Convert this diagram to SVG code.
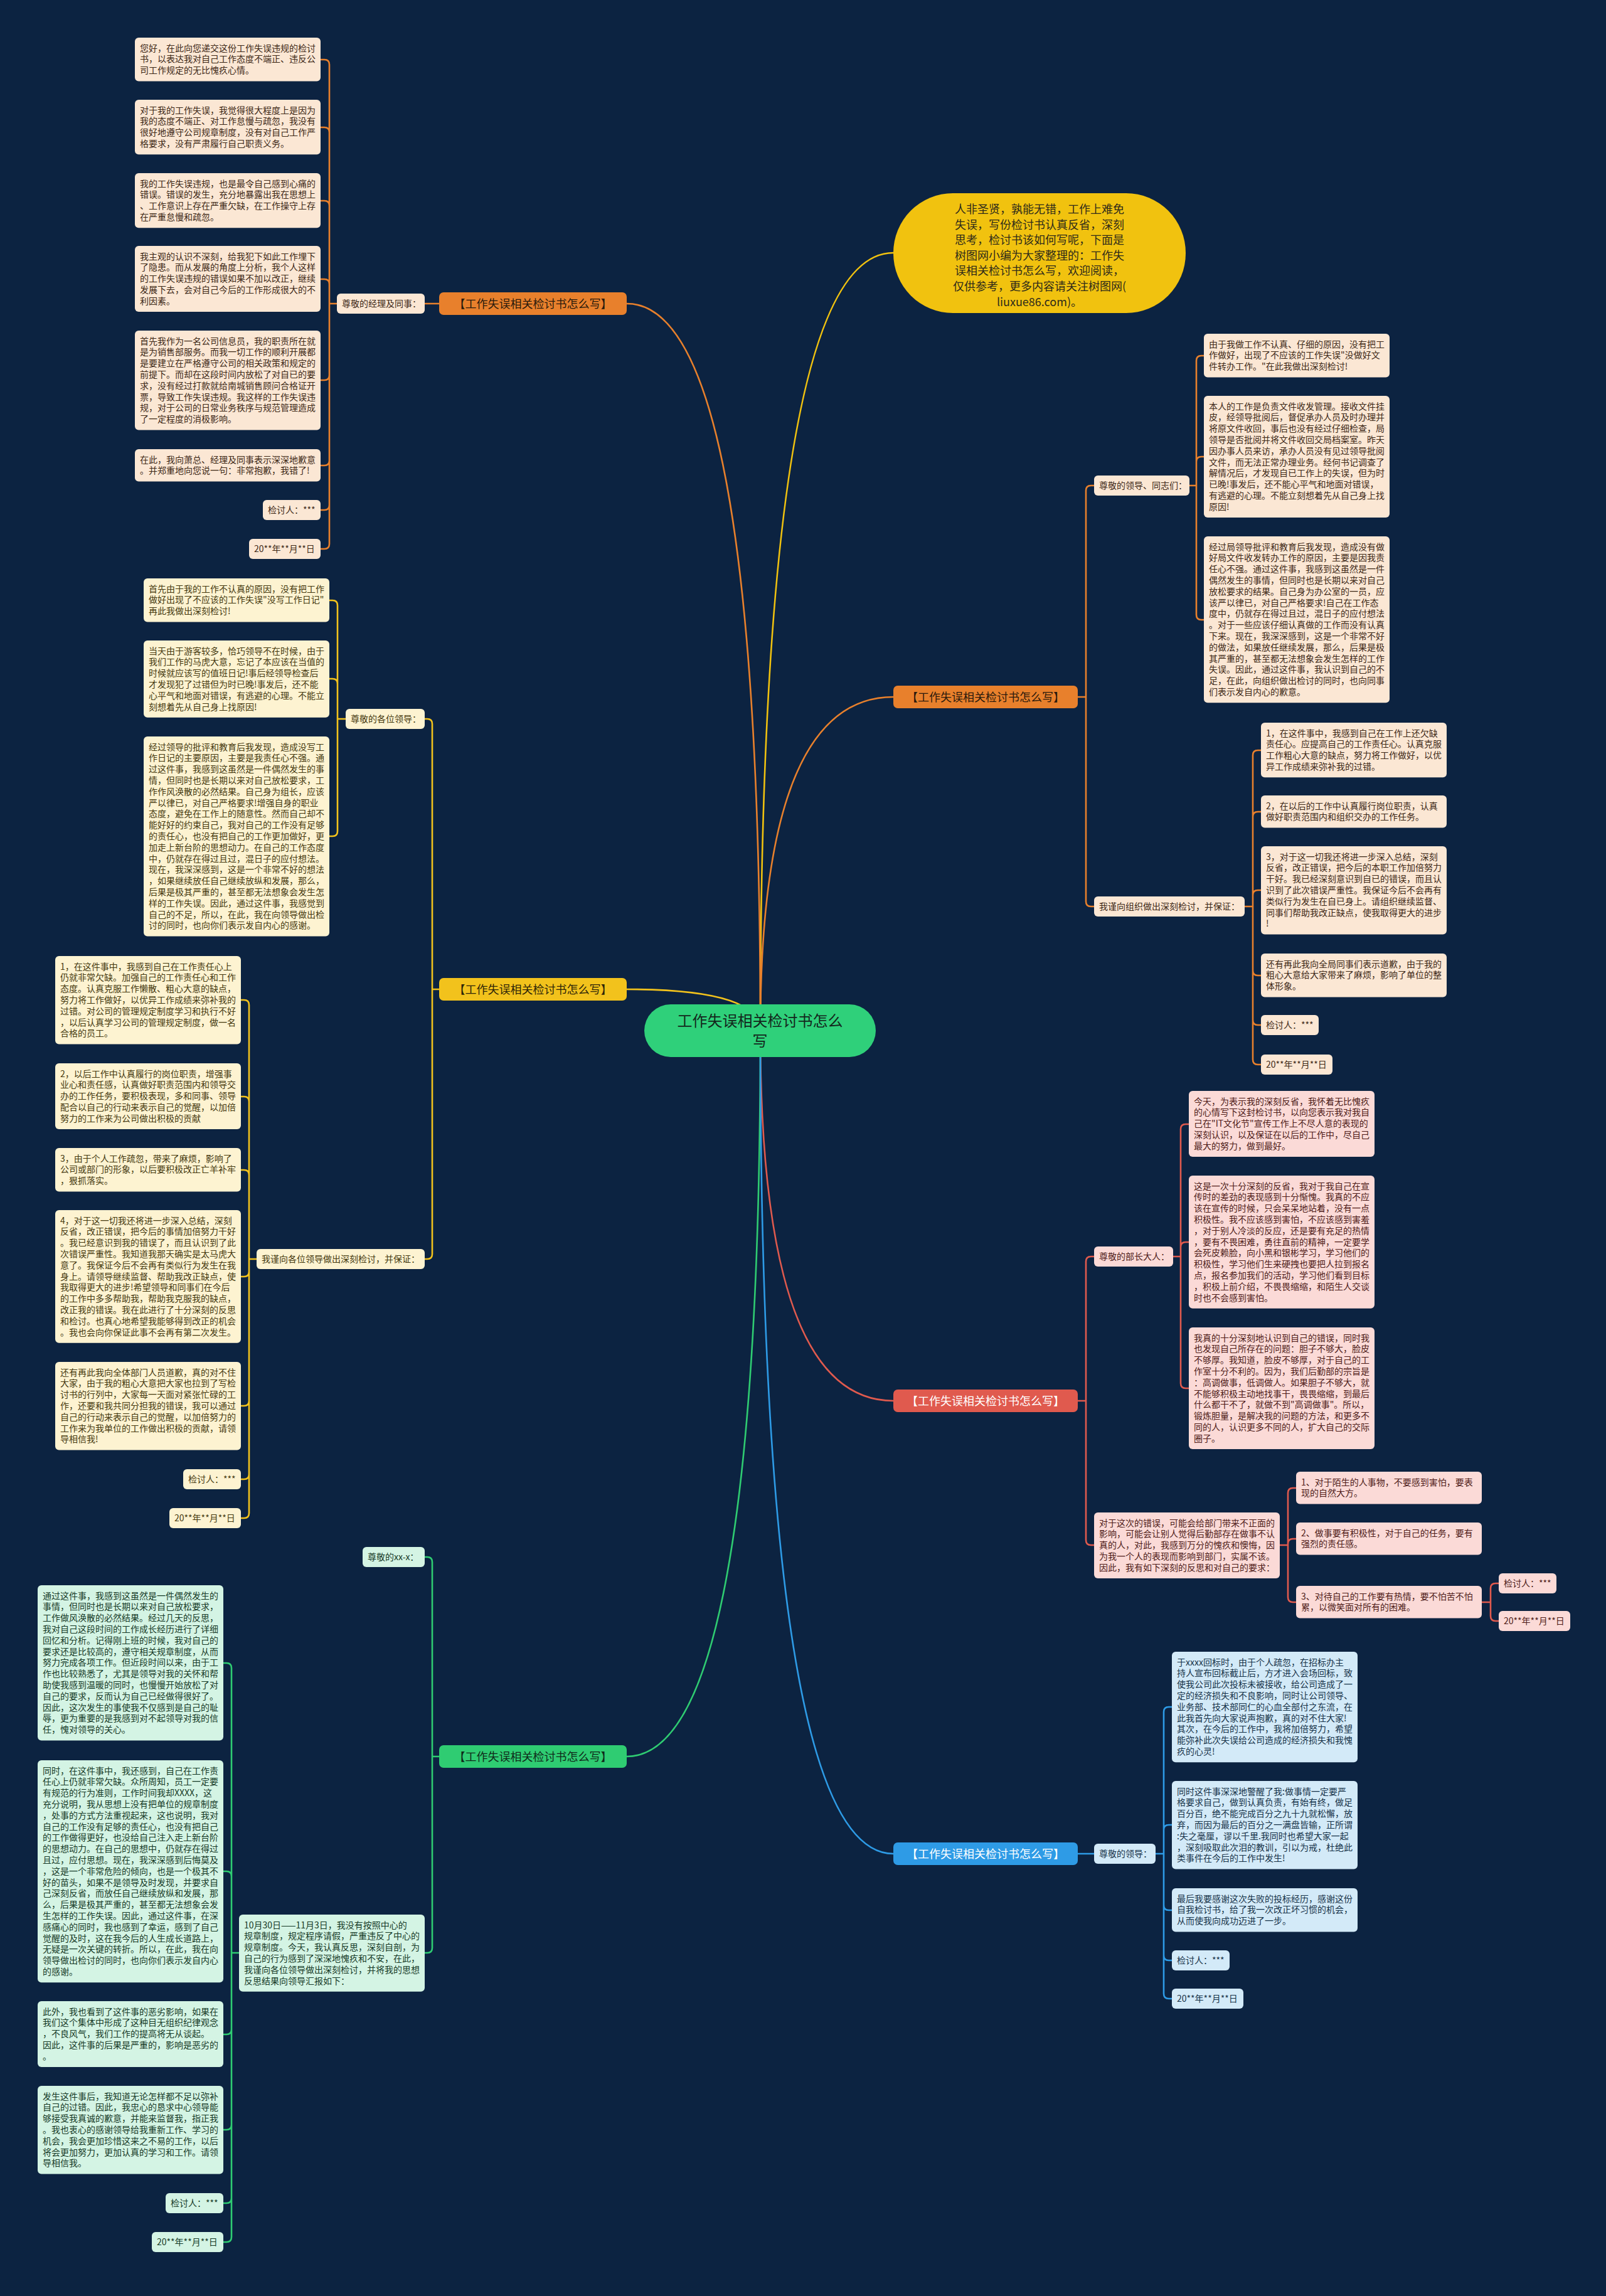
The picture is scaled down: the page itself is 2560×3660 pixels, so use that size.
<svg xmlns="http://www.w3.org/2000/svg" width="2560" height="3660" viewBox="0 0 2560 3660">
<style>
text{font-family:"Noto Sans CJK SC","Noto Sans",sans-serif;}
.b{font-size:14px}
.m{font-size:18px;text-anchor:middle}
.ln{fill:none;stroke-width:2.6;stroke-linejoin:round}
.o rect{fill:#fbe7d4}.o text{fill:#3d2816}
.y rect{fill:#fdf3d1}.y text{fill:#45390f}
.r rect{fill:#fbdad7}.r text{fill:#4e1b18}
.g rect{fill:#d4f4e4}.g text{fill:#163a27}
.u rect{fill:#d3eaf8}.u text{fill:#163248}
.mo rect{fill:#e8802c}.mo text{fill:#2a1a0c}
.my rect{fill:#f2c21c}.my text{fill:#2e2508}
.mr rect{fill:#e05a4e}.mr text{fill:#ffffff}
.mg rect{fill:#2fcc72}.mg text{fill:#0f2a1a}
.mu rect{fill:#2e9be6}.mu text{fill:#ffffff}
</style>
<rect x="0" y="0" width="2560" height="3660" fill="#0c2341"/>

<g id="connectors">
<path class="ln" stroke="#f1c20f" d="M1212 1643Q1212 403 1424 403"/>
<path class="ln" stroke="#e8802c" d="M1212 1643Q1212 484 999 484"/>
<path class="ln" stroke="#e8802c" d="M1212 1643Q1212 1111 1424 1111"/>
<path class="ln" stroke="#f2c21c" d="M1212 1643Q1212 1577 999 1577"/>
<path class="ln" stroke="#e05a4e" d="M1212 1643Q1212 2233 1424 2233"/>
<path class="ln" stroke="#2fcc72" d="M1212 1643Q1212 2800 999 2800"/>
<path class="ln" stroke="#2e9be6" d="M1212 1643Q1212 2955 1424 2955"/>

<path class="ln" stroke="#e8802c" d="M700 484H677M537 484H525V103Q525 95 517 95H511M537 484H525V211Q525 203 517 203H511M537 484H525V328Q525 320 517 320H511M537 484H525V453Q525 445 517 445H511M537 484H525V598Q525 606 517 606H511M537 484H525V734Q525 742 517 742H511M537 484H525V805Q525 813 517 813H511M537 484H525V867Q525 875 517 875H511"/>

<path class="ln" stroke="#e8802c" d="M1718 1111H1731V782Q1731 774 1739 774H1744M1718 1111H1731V1437Q1731 1445 1739 1445H1744M1896 774H1907V575Q1907 567 1915 567H1919M1896 774H1907V736Q1907 728 1915 728H1919M1896 774H1907V980Q1907 988 1915 988H1919M1984 1445H1997V1204Q1997 1196 2005 1196H2010M1984 1445H1997V1302Q1997 1294 2005 1294H2010M1984 1445H1997V1427Q1997 1419 2005 1419H2010M1984 1445H1997V1547Q1997 1555 2005 1555H2010M1984 1445H1997V1626Q1997 1634 2005 1634H2010M1984 1445H1997V1689Q1997 1697 2005 1697H2010"/>

<path class="ln" stroke="#f2c21c" d="M700 1577H689V1154Q689 1146 681 1146H677M700 1577H689V1999Q689 2007 681 2007H677M551 1146H538V965Q538 957 530 957H525M551 1146H538V1090Q538 1082 530 1082H525M551 1146H538V1325Q538 1333 530 1333H525M409 2007H397V1602Q397 1594 389 1594H384M409 2007H397V1756Q397 1748 389 1748H384M409 2007H397V1873Q397 1865 389 1865H384M409 2007H397V2027Q397 2035 389 2035H384M409 2007H397V2233Q397 2241 389 2241H384M409 2007H397V2350Q397 2358 389 2358H384M409 2007H397V2412Q397 2420 389 2420H384"/>

<path class="ln" stroke="#e05a4e" d="M1718 2233H1731V2011Q1731 2003 1739 2003H1744M1718 2233H1731V2455Q1731 2463 1739 2463H1744M1870 2003H1882V1800Q1882 1792 1890 1792H1895M1870 2003H1882V1988Q1882 1980 1890 1980H1895M1870 2003H1882V2205Q1882 2213 1890 2213H1895M2040 2463H2053V2380Q2053 2372 2061 2372H2066M2040 2463H2053V2461Q2053 2453 2061 2453H2066M2040 2463H2053V2546Q2053 2554 2061 2554H2066M2362 2554H2376V2532Q2376 2524 2384 2524H2389M2362 2554H2376V2576Q2376 2584 2384 2584H2389"/>

<path class="ln" stroke="#2fcc72" d="M700 2800H689V2490Q689 2482 681 2482H677M700 2800H689V3105Q689 3113 681 3113H677M381 3113H369V2659Q369 2651 361 2651H356M381 3113H369V2991Q369 2983 361 2983H356M381 3113H369V3235Q369 3243 361 3243H356M381 3113H369V3387Q369 3395 361 3395H356M381 3113H369V3504Q369 3512 361 3512H356M381 3113H369V3566Q369 3574 361 3574H356"/>

<path class="ln" stroke="#2e9be6" d="M1718 2955H1744M1842 2955H1855V2729Q1855 2721 1863 2721H1868M1842 2955H1855V2917Q1855 2909 1863 2909H1868M1842 2955H1855V3037Q1855 3045 1863 3045H1868M1842 2955H1855V3117Q1855 3125 1863 3125H1868M1842 2955H1855V3178Q1855 3186 1863 3186H1868"/>
</g>

<g id="root">
<rect x="1027" y="1601" width="369" height="84" rx="42" fill="#2fd07a"/>
<text x="1211.5" y="1636" font-size="24" text-anchor="middle" fill="#13261c"><tspan x="1211.5">工作失误相关检讨书怎么</tspan><tspan x="1211.5" dy="32">写</tspan></text>
</g>

<g id="intro">
<rect x="1424" y="308" width="466" height="191" rx="95" fill="#f1c20f"/>
<text x="1657" y="340" font-size="18" text-anchor="middle" fill="#2e2a1a"><tspan x="1657">人非圣贤，孰能无错，工作上难免</tspan><tspan x="1657" dy="24.6">失误，写份检讨书认真反省，深刻</tspan><tspan x="1657" dy="24.6">思考，检讨书该如何写呢，下面是</tspan><tspan x="1657" dy="24.6">树图网小编为大家整理的：工作失</tspan><tspan x="1657" dy="24.6">误相关检讨书怎么写，欢迎阅读，</tspan><tspan x="1657" dy="24.6">仅供参考，更多内容请关注树图网(</tspan><tspan x="1657" dy="24.6">liuxue86.com)。</tspan></text>
</g>

<!-- Branch A -->
<g id="mainA" class="mo"><rect x="700" y="466" width="299" height="36" rx="7"/><text class="m" x="849.5" y="490.5">【工作失误相关检讨书怎么写】</text></g>
<g id="labelA" class="o"><rect x="537" y="468" width="140" height="32" rx="6"/><text class="b" x="545" y="489">尊敬的经理及同事：</text></g>
<g id="a1" class="o"><rect x="215" y="60" width="296" height="69.4" rx="6"/><text class="b" x="223" y="81.5"><tspan x="223">您好，在此向您递交这份工作失误违规的检讨</tspan><tspan x="223" dy="17.8">书，以表达我对自己工作态度不端正、违反公</tspan><tspan x="223" dy="17.8">司工作规定的无比愧疚心情。</tspan></text></g>
<g id="a2" class="o"><rect x="215" y="159" width="296" height="87.2" rx="6"/><text class="b" x="223" y="180.5"><tspan x="223">对于我的工作失误，我觉得很大程度上是因为</tspan><tspan x="223" dy="17.8">我的态度不端正、对工作怠慢与疏忽，我没有</tspan><tspan x="223" dy="17.8">很好地遵守公司规章制度，没有对自己工作严</tspan><tspan x="223" dy="17.8">格要求，没有严肃履行自己职责义务。</tspan></text></g>
<g id="a3" class="o"><rect x="215" y="276" width="296" height="87.2" rx="6"/><text class="b" x="223" y="297.5"><tspan x="223">我的工作失误违规，也是最令自己感到心痛的</tspan><tspan x="223" dy="17.8">错误。错误的发生，充分地暴露出我在思想上</tspan><tspan x="223" dy="17.8">、工作意识上存在严重欠缺，在工作操守上存</tspan><tspan x="223" dy="17.8">在严重怠慢和疏忽。</tspan></text></g>
<g id="a4" class="o"><rect x="215" y="392" width="296" height="105" rx="6"/><text class="b" x="223" y="413.5"><tspan x="223">我主观的认识不深刻，给我犯下如此工作埋下</tspan><tspan x="223" dy="17.8">了隐患。而从发展的角度上分析，我个人这样</tspan><tspan x="223" dy="17.8">的工作失误违规的错误如果不加以改正，继续</tspan><tspan x="223" dy="17.8">发展下去，会对自己今后的工作形成很大的不</tspan><tspan x="223" dy="17.8">利因素。</tspan></text></g>
<g id="a5" class="o"><rect x="215" y="527" width="296" height="158.4" rx="6"/><text class="b" x="223" y="548.5"><tspan x="223">首先我作为一名公司信息员，我的职责所在就</tspan><tspan x="223" dy="17.8">是为销售部服务。而我一切工作的顺利开展都</tspan><tspan x="223" dy="17.8">是要建立在严格遵守公司的相关政策和规定的</tspan><tspan x="223" dy="17.8">前提下。而却在这段时间内放松了对自已的要</tspan><tspan x="223" dy="17.8">求，没有经过打款就给南城销售顾问合格证开</tspan><tspan x="223" dy="17.8">票，导致工作失误违规。我这样的工作失误违</tspan><tspan x="223" dy="17.8">规，对于公司的日常业务秩序与规范管理造成</tspan><tspan x="223" dy="17.8">了一定程度的消极影响。</tspan></text></g>
<g id="a6" class="o"><rect x="215" y="716" width="296" height="51.6" rx="6"/><text class="b" x="223" y="737.5"><tspan x="223">在此，我向萧总、经理及同事表示深深地歉意</tspan><tspan x="223" dy="17.8">。并郑重地向您说一句：非常抱歉，我错了!</tspan></text></g>
<g id="a7" class="o"><rect x="419" y="797" width="92" height="32" rx="6"/><text class="b" x="427" y="818">检讨人：***</text></g>
<g id="a8" class="o"><rect x="397" y="859" width="114" height="32" rx="6"/><text class="b" x="405" y="880">20**年**月**日</text></g>

<!-- Branch B -->
<g id="mainB" class="mo"><rect x="1424" y="1093" width="294" height="36" rx="7"/><text class="m" x="1571" y="1117.5">【工作失误相关检讨书怎么写】</text></g>
<g id="labelB1" class="o"><rect x="1744" y="758" width="152" height="32" rx="6"/><text class="b" x="1752" y="779">尊敬的领导、同志们：</text></g>
<g id="b11" class="o"><rect x="1919" y="532" width="296" height="69.4" rx="6"/><text class="b" x="1927" y="553.5"><tspan x="1927">由于我做工作不认真、仔细的原因，没有把工</tspan><tspan x="1927" dy="17.8">作做好，出现了不应该的工作失误"没做好文</tspan><tspan x="1927" dy="17.8">件转办工作。"在此我做出深刻检讨!</tspan></text></g>
<g id="b12" class="o"><rect x="1919" y="631" width="296" height="194" rx="6"/><text class="b" x="1927" y="652.5"><tspan x="1927">本人的工作是负责文件收发管理。接收文件挂</tspan><tspan x="1927" dy="17.8">皮，经领导批阅后，督促承办人员及时办理并</tspan><tspan x="1927" dy="17.8">将原文件收回，事后也没有经过仔细检查，局</tspan><tspan x="1927" dy="17.8">领导是否批阅并将文件收回交局档案室。昨天</tspan><tspan x="1927" dy="17.8">因办事人员来访，承办人员没有见过领导批阅</tspan><tspan x="1927" dy="17.8">文件，而无法正常办理业务。经何书记调查了</tspan><tspan x="1927" dy="17.8">解情况后，才发现自已工作上的失误，但为时</tspan><tspan x="1927" dy="17.8">已晚!事发后，还不能心平气和地面对错误，</tspan><tspan x="1927" dy="17.8">有逃避的心理。不能立刻想着先从自己身上找</tspan><tspan x="1927" dy="17.8">原因!</tspan></text></g>
<g id="b13" class="o"><rect x="1919" y="855" width="296" height="265.2" rx="6"/><text class="b" x="1927" y="876.5"><tspan x="1927">经过局领导批评和教育后我发现，造成没有做</tspan><tspan x="1927" dy="17.8">好局文件收发转办工作的原因，主要是因我责</tspan><tspan x="1927" dy="17.8">任心不强。通过这件事，我感到这虽然是一件</tspan><tspan x="1927" dy="17.8">偶然发生的事情，但同时也是长期以来对自己</tspan><tspan x="1927" dy="17.8">放松要求的结果。自己身为办公室的一员，应</tspan><tspan x="1927" dy="17.8">该严以律已，对自己严格要求!自己在工作态</tspan><tspan x="1927" dy="17.8">度中，仍就存在得过且过，混日子的应付想法</tspan><tspan x="1927" dy="17.8">。对于一些应该仔细认真做的工作而没有认真</tspan><tspan x="1927" dy="17.8">下来。现在，我深深感到，这是一个非常不好</tspan><tspan x="1927" dy="17.8">的做法，如果放任继续发展，那么，后果是极</tspan><tspan x="1927" dy="17.8">其严重的，甚至都无法想象会发生怎样的工作</tspan><tspan x="1927" dy="17.8">失误。因此，通过这件事，我认识到自己的不</tspan><tspan x="1927" dy="17.8">足，在此，向组织做出检讨的同时，也向同事</tspan><tspan x="1927" dy="17.8">们表示发自内心的歉意。</tspan></text></g>
<g id="labelB2" class="o"><rect x="1744" y="1429" width="240" height="32" rx="6"/><text class="b" x="1752" y="1450">我谨向组织做出深刻检讨，并保证：</text></g>
<g id="b21" class="o"><rect x="2010" y="1152" width="296" height="87.2" rx="6"/><text class="b" x="2018" y="1173.5"><tspan x="2018">1，在这件事中，我感到自己在工作上还欠缺</tspan><tspan x="2018" dy="17.8">责任心。应提高自己的工作责任心。认真克服</tspan><tspan x="2018" dy="17.8">工作粗心大意的缺点，努力将工作做好，以优</tspan><tspan x="2018" dy="17.8">异工作成绩来弥补我的过错。</tspan></text></g>
<g id="b22" class="o"><rect x="2010" y="1268" width="296" height="51.6" rx="6"/><text class="b" x="2018" y="1289.5"><tspan x="2018">2，在以后的工作中认真履行岗位职责，认真</tspan><tspan x="2018" dy="17.8">做好职责范围内和组织交办的工作任务。</tspan></text></g>
<g id="b23" class="o"><rect x="2010" y="1349" width="296" height="140.6" rx="6"/><text class="b" x="2018" y="1370.5"><tspan x="2018">3，对于这一切我还将进一步深入总结，深刻</tspan><tspan x="2018" dy="17.8">反省，改正错误，把今后的本职工作加倍努力</tspan><tspan x="2018" dy="17.8">干好。我已经深刻意识到自已的错误，而且认</tspan><tspan x="2018" dy="17.8">识到了此次错误严重性。我保证今后不会再有</tspan><tspan x="2018" dy="17.8">类似行为发生在自已身上。请组织继续监督、</tspan><tspan x="2018" dy="17.8">同事们帮助我改正缺点，使我取得更大的进步</tspan><tspan x="2018" dy="17.8">!</tspan></text></g>
<g id="b24" class="o"><rect x="2010" y="1520" width="296" height="69.4" rx="6"/><text class="b" x="2018" y="1541.5"><tspan x="2018">还有再此我向全局同事们表示道歉，由于我的</tspan><tspan x="2018" dy="17.8">粗心大意给大家带来了麻烦，影响了单位的整</tspan><tspan x="2018" dy="17.8">体形象。</tspan></text></g>
<g id="b25" class="o"><rect x="2010" y="1618" width="92" height="32" rx="6"/><text class="b" x="2018" y="1639">检讨人：***</text></g>
<g id="b26" class="o"><rect x="2010" y="1681" width="114" height="32" rx="6"/><text class="b" x="2018" y="1702">20**年**月**日</text></g>

<!-- Branch C -->
<g id="mainC" class="my"><rect x="700" y="1559" width="299" height="36" rx="7"/><text class="m" x="849.5" y="1583.5">【工作失误相关检讨书怎么写】</text></g>
<g id="labelC1" class="y"><rect x="551" y="1130" width="126" height="32" rx="6"/><text class="b" x="559" y="1151">尊敬的各位领导：</text></g>
<g id="c11" class="y"><rect x="229" y="922" width="296" height="69.4" rx="6"/><text class="b" x="237" y="943.5"><tspan x="237">首先由于我的工作不认真的原因，没有把工作</tspan><tspan x="237" dy="17.8">做好出现了不应该的工作失误"没写工作日记"</tspan><tspan x="237" dy="17.8">再此我做出深刻检讨!</tspan></text></g>
<g id="c12" class="y"><rect x="229" y="1021" width="296" height="122.8" rx="6"/><text class="b" x="237" y="1042.5"><tspan x="237">当天由于游客较多，恰巧领导不在时候，由于</tspan><tspan x="237" dy="17.8">我们工作的马虎大意，忘记了本应该在当值的</tspan><tspan x="237" dy="17.8">时候就应该写的值班日记!事后经领导检查后</tspan><tspan x="237" dy="17.8">才发现犯了过错但为时已晚!事发后，还不能</tspan><tspan x="237" dy="17.8">心平气和地面对错误，有逃避的心理。不能立</tspan><tspan x="237" dy="17.8">刻想着先从自己身上找原因!</tspan></text></g>
<g id="c13" class="y"><rect x="229" y="1174" width="296" height="318.6" rx="6"/><text class="b" x="237" y="1195.5"><tspan x="237">经过领导的批评和教育后我发现，造成没写工</tspan><tspan x="237" dy="17.8">作日记的主要原因，主要是我责任心不强。通</tspan><tspan x="237" dy="17.8">过这件事，我感到这虽然是一件偶然发生的事</tspan><tspan x="237" dy="17.8">情，但同时也是长期以来对自己放松要求，工</tspan><tspan x="237" dy="17.8">作作风涣散的必然结果。自己身为组长，应该</tspan><tspan x="237" dy="17.8">严以律已，对自己严格要求!增强自身的职业</tspan><tspan x="237" dy="17.8">态度，避免在工作上的随意性。然而自己却不</tspan><tspan x="237" dy="17.8">能好好的约束自己，我对自己的工作没有足够</tspan><tspan x="237" dy="17.8">的责任心，也没有把自己的工作更加做好，更</tspan><tspan x="237" dy="17.8">加走上新台阶的思想动力。在自己的工作态度</tspan><tspan x="237" dy="17.8">中，仍就存在得过且过，混日子的应付想法。</tspan><tspan x="237" dy="17.8">现在，我深深感到，这是一个非常不好的想法</tspan><tspan x="237" dy="17.8">，如果继续放任自己继续放纵和发展，那么，</tspan><tspan x="237" dy="17.8">后果是极其严重的，甚至都无法想象会发生怎</tspan><tspan x="237" dy="17.8">样的工作失误。因此，通过这件事，我感觉到</tspan><tspan x="237" dy="17.8">自己的不足，所以，在此，我在向领导做出检</tspan><tspan x="237" dy="17.8">讨的同时，也向你们表示发自内心的感谢。</tspan></text></g>
<g id="labelC2" class="y"><rect x="409" y="1991" width="268" height="32" rx="6"/><text class="b" x="417" y="2012">我谨向各位领导做出深刻检讨，并保证：</text></g>
<g id="c21" class="y"><rect x="88" y="1524" width="296" height="140.6" rx="6"/><text class="b" x="96" y="1545.5"><tspan x="96">1，在这件事中，我感到自己在工作责任心上</tspan><tspan x="96" dy="17.8">仍就非常欠缺。加强自己的工作责任心和工作</tspan><tspan x="96" dy="17.8">态度。认真克服工作懒散、粗心大意的缺点，</tspan><tspan x="96" dy="17.8">努力将工作做好，以优异工作成绩来弥补我的</tspan><tspan x="96" dy="17.8">过错。对公司的管理规定制度学习和执行不好</tspan><tspan x="96" dy="17.8">，以后认真学习公司的管理规定制度，做一名</tspan><tspan x="96" dy="17.8">合格的员工。</tspan></text></g>
<g id="c22" class="y"><rect x="88" y="1695" width="296" height="105" rx="6"/><text class="b" x="96" y="1716.5"><tspan x="96">2，以后工作中认真履行的岗位职责，增强事</tspan><tspan x="96" dy="17.8">业心和责任感，认真做好职责范围内和领导交</tspan><tspan x="96" dy="17.8">办的工作任务，要积极表现，多和同事、领导</tspan><tspan x="96" dy="17.8">配合以自己的行动来表示自己的觉醒，以加倍</tspan><tspan x="96" dy="17.8">努力的工作来为公司做出积极的贡献</tspan></text></g>
<g id="c23" class="y"><rect x="88" y="1830" width="296" height="69.4" rx="6"/><text class="b" x="96" y="1851.5"><tspan x="96">3，由于个人工作疏忽，带来了麻烦，影响了</tspan><tspan x="96" dy="17.8">公司或部门的形象，以后要积极改正亡羊补牢</tspan><tspan x="96" dy="17.8">，狠抓落实。</tspan></text></g>
<g id="c24" class="y"><rect x="88" y="1929" width="296" height="211.8" rx="6"/><text class="b" x="96" y="1950.5"><tspan x="96">4，对于这一切我还将进一步深入总结，深刻</tspan><tspan x="96" dy="17.8">反省，改正错误，把今后的事情加倍努力干好</tspan><tspan x="96" dy="17.8">。我已经意识到我的错误了，而且认识到了此</tspan><tspan x="96" dy="17.8">次错误严重性。我知道我那天确实是太马虎大</tspan><tspan x="96" dy="17.8">意了。我保证今后不会再有类似行为发生在我</tspan><tspan x="96" dy="17.8">身上。请领导继续监督、帮助我改正缺点，使</tspan><tspan x="96" dy="17.8">我取得更大的进步!希望领导和同事们在今后</tspan><tspan x="96" dy="17.8">的工作中多多帮助我，帮助我克服我的缺点，</tspan><tspan x="96" dy="17.8">改正我的错误。我在此进行了十分深刻的反思</tspan><tspan x="96" dy="17.8">和检讨。也真心地希望我能够得到改正的机会</tspan><tspan x="96" dy="17.8">。我也会向你保证此事不会再有第二次发生。</tspan></text></g>
<g id="c25" class="y"><rect x="88" y="2171" width="296" height="140.6" rx="6"/><text class="b" x="96" y="2192.5"><tspan x="96">还有再此我向全体部门人员道歉，真的对不住</tspan><tspan x="96" dy="17.8">大家，由于我的粗心大意把大家也拉到了写检</tspan><tspan x="96" dy="17.8">讨书的行列中，大家每一天面对紧张忙碌的工</tspan><tspan x="96" dy="17.8">作，还要和我共同分担我的错误，我可以通过</tspan><tspan x="96" dy="17.8">自己的行动来表示自己的觉醒，以加倍努力的</tspan><tspan x="96" dy="17.8">工作来为我单位的工作做出积极的贡献，请领</tspan><tspan x="96" dy="17.8">导相信我!</tspan></text></g>
<g id="c26" class="y"><rect x="292" y="2342" width="92" height="32" rx="6"/><text class="b" x="300" y="2363">检讨人：***</text></g>
<g id="c27" class="y"><rect x="270" y="2404" width="114" height="32" rx="6"/><text class="b" x="278" y="2425">20**年**月**日</text></g>

<!-- Branch D -->
<g id="mainD" class="mr"><rect x="1424" y="2215" width="294" height="36" rx="7"/><text class="m" x="1571" y="2239.5">【工作失误相关检讨书怎么写】</text></g>
<g id="labelD1" class="r"><rect x="1744" y="1987" width="126" height="32" rx="6"/><text class="b" x="1752" y="2008">尊敬的部长大人：</text></g>
<g id="d11" class="r"><rect x="1895" y="1739" width="296" height="105" rx="6"/><text class="b" x="1903" y="1760.5"><tspan x="1903">今天，为表示我的深刻反省，我怀着无比愧疚</tspan><tspan x="1903" dy="17.8">的心情写下这封检讨书，以向您表示我对我自</tspan><tspan x="1903" dy="17.8">己在"IT文化节"宣传工作上不尽人意的表现的</tspan><tspan x="1903" dy="17.8">深刻认识，以及保证在以后的工作中，尽自己</tspan><tspan x="1903" dy="17.8">最大的努力，做到最好。</tspan></text></g>
<g id="d12" class="r"><rect x="1895" y="1874" width="296" height="211.8" rx="6"/><text class="b" x="1903" y="1895.5"><tspan x="1903">这是一次十分深刻的反省，我对于我自己在宣</tspan><tspan x="1903" dy="17.8">传时的差劲的表现感到十分惭愧。我真的不应</tspan><tspan x="1903" dy="17.8">该在宣传的时候，只会呆呆地站着，没有一点</tspan><tspan x="1903" dy="17.8">积极性。我不应该感到害怕，不应该感到害羞</tspan><tspan x="1903" dy="17.8">，对于别人冷淡的反应，还是要有充足的热情</tspan><tspan x="1903" dy="17.8">，要有不畏困难，勇往直前的精神，一定要学</tspan><tspan x="1903" dy="17.8">会死皮赖脸，向小黑和银彬学习，学习他们的</tspan><tspan x="1903" dy="17.8">积极性，学习他们生来硬拽也要把人拉到报名</tspan><tspan x="1903" dy="17.8">点，报名参加我们的活动，学习他们看到目标</tspan><tspan x="1903" dy="17.8">，积极上前介绍，不畏畏缩缩，和陌生人交谈</tspan><tspan x="1903" dy="17.8">时也不会感到害怕。</tspan></text></g>
<g id="d13" class="r"><rect x="1895" y="2116" width="296" height="194" rx="6"/><text class="b" x="1903" y="2137.5"><tspan x="1903">我真的十分深刻地认识到自己的错误，同时我</tspan><tspan x="1903" dy="17.8">也发现自己所存在的问题：胆子不够大，脸皮</tspan><tspan x="1903" dy="17.8">不够厚。我知道，脸皮不够厚，对于自己的工</tspan><tspan x="1903" dy="17.8">作室十分不利的。因为，我们后勤部的宗旨是</tspan><tspan x="1903" dy="17.8">：高调做事，低调做人。如果胆子不够大，就</tspan><tspan x="1903" dy="17.8">不能够积极主动地找事干，畏畏缩缩，到最后</tspan><tspan x="1903" dy="17.8">什么都干不了，就做不到"高调做事"。所以，</tspan><tspan x="1903" dy="17.8">锻炼胆量，是解决我的问题的方法，和更多不</tspan><tspan x="1903" dy="17.8">同的人，认识更多不同的人，扩大自己的交际</tspan><tspan x="1903" dy="17.8">圈子。</tspan></text></g>
<g id="d2" class="r"><rect x="1744" y="2411" width="296" height="105" rx="6"/><text class="b" x="1752" y="2432.5"><tspan x="1752">对于这次的错误，可能会给部门带来不正面的</tspan><tspan x="1752" dy="17.8">影响，可能会让别人觉得后勤部存在做事不认</tspan><tspan x="1752" dy="17.8">真的人，对此，我感到万分的愧疚和懊悔，因</tspan><tspan x="1752" dy="17.8">为我一个人的表现而影响到部门，实属不该。</tspan><tspan x="1752" dy="17.8">因此，我有如下深刻的反思和对自己的要求：</tspan></text></g>
<g id="d21" class="r"><rect x="2066" y="2346" width="296" height="51.6" rx="6"/><text class="b" x="2074" y="2367.5"><tspan x="2074">1、对于陌生的人事物，不要感到害怕，要表</tspan><tspan x="2074" dy="17.8">现的自然大方。</tspan></text></g>
<g id="d22" class="r"><rect x="2066" y="2427" width="296" height="51.6" rx="6"/><text class="b" x="2074" y="2448.5"><tspan x="2074">2、做事要有积极性，对于自己的任务，要有</tspan><tspan x="2074" dy="17.8">强烈的责任感。</tspan></text></g>
<g id="d23" class="r"><rect x="2066" y="2528" width="296" height="51.6" rx="6"/><text class="b" x="2074" y="2549.5"><tspan x="2074">3、对待自己的工作要有热情，要不怕苦不怕</tspan><tspan x="2074" dy="17.8">累，以微笑面对所有的困难。</tspan></text></g>
<g id="d231" class="r"><rect x="2389" y="2508" width="92" height="32" rx="6"/><text class="b" x="2397" y="2529">检讨人：***</text></g>
<g id="d232" class="r"><rect x="2389" y="2568" width="114" height="32" rx="6"/><text class="b" x="2397" y="2589">20**年**月**日</text></g>

<!-- Branch E -->
<g id="mainE" class="mg"><rect x="700" y="2782" width="299" height="36" rx="7"/><text class="m" x="849.5" y="2806.5">【工作失误相关检讨书怎么写】</text></g>
<g id="labelE1" class="g"><rect x="578" y="2466" width="99" height="32" rx="6"/><text class="b" x="586" y="2487">尊敬的xx-x：</text></g>
<g id="e2" class="g"><rect x="381" y="3052" width="296" height="122.8" rx="6"/><text class="b" x="389" y="3073.5"><tspan x="389">10月30日——11月3日，我没有按照中心的</tspan><tspan x="389" dy="17.8">规章制度，规定程序请假，严重违反了中心的</tspan><tspan x="389" dy="17.8">规章制度。今天，我认真反思，深刻自剖，为</tspan><tspan x="389" dy="17.8">自己的行为感到了深深地愧疚和不安，在此，</tspan><tspan x="389" dy="17.8">我谨向各位领导做出深刻检讨，并将我的思想</tspan><tspan x="389" dy="17.8">反思结果向领导汇报如下：</tspan></text></g>
<g id="e21" class="g"><rect x="60" y="2527" width="296" height="247.4" rx="6"/><text class="b" x="68" y="2548.5"><tspan x="68">通过这件事，我感到这虽然是一件偶然发生的</tspan><tspan x="68" dy="17.8">事情，但同时也是长期以来对自己放松要求，</tspan><tspan x="68" dy="17.8">工作做风涣散的必然结果。经过几天的反思，</tspan><tspan x="68" dy="17.8">我对自己这段时间的工作成长经历进行了详细</tspan><tspan x="68" dy="17.8">回忆和分析。记得刚上班的时候，我对自己的</tspan><tspan x="68" dy="17.8">要求还是比较高的，遵守相关规章制度，从而</tspan><tspan x="68" dy="17.8">努力完成各项工作。但近段时间以来，由于工</tspan><tspan x="68" dy="17.8">作也比较熟悉了，尤其是领导对我的关怀和帮</tspan><tspan x="68" dy="17.8">助使我感到温暖的同时，也慢慢开始放松了对</tspan><tspan x="68" dy="17.8">自己的要求，反而认为自己已经做得很好了。</tspan><tspan x="68" dy="17.8">因此，这次发生的事使我不仅感到是自己的耻</tspan><tspan x="68" dy="17.8">辱，更为重要的是我感到对不起领导对我的信</tspan><tspan x="68" dy="17.8">任，愧对领导的关心。</tspan></text></g>
<g id="e22" class="g"><rect x="60" y="2806" width="296" height="354.2" rx="6"/><text class="b" x="68" y="2827.5"><tspan x="68">同时，在这件事中，我还感到，自己在工作责</tspan><tspan x="68" dy="17.8">任心上仍就非常欠缺。众所周知，员工一定要</tspan><tspan x="68" dy="17.8">有规范的行为准则，工作时间我却XXXX，这</tspan><tspan x="68" dy="17.8">充分说明，我从思想上没有把单位的规章制度</tspan><tspan x="68" dy="17.8">，处事的方式方法重视起来，这也说明，我对</tspan><tspan x="68" dy="17.8">自己的工作没有足够的责任心，也没有把自己</tspan><tspan x="68" dy="17.8">的工作做得更好，也没给自己注入走上新台阶</tspan><tspan x="68" dy="17.8">的思想动力。在自己的思想中，仍就存在得过</tspan><tspan x="68" dy="17.8">且过，应付思想。现在，我深深感到后悔莫及</tspan><tspan x="68" dy="17.8">，这是一个非常危险的倾向，也是一个极其不</tspan><tspan x="68" dy="17.8">好的苗头，如果不是领导及时发现，并要求自</tspan><tspan x="68" dy="17.8">己深刻反省，而放任自己继续放纵和发展，那</tspan><tspan x="68" dy="17.8">么，后果是极其严重的，甚至都无法想象会发</tspan><tspan x="68" dy="17.8">生怎样的工作失误。因此，通过这件事，在深</tspan><tspan x="68" dy="17.8">感痛心的同时，我也感到了幸运，感到了自己</tspan><tspan x="68" dy="17.8">觉醒的及时，这在我今后的人生成长道路上，</tspan><tspan x="68" dy="17.8">无疑是一次关键的转折。所以，在此，我在向</tspan><tspan x="68" dy="17.8">领导做出检讨的同时，也向你们表示发自内心</tspan><tspan x="68" dy="17.8">的感谢。</tspan></text></g>
<g id="e23" class="g"><rect x="60" y="3190" width="296" height="105" rx="6"/><text class="b" x="68" y="3211.5"><tspan x="68">此外，我也看到了这件事的恶劣影响，如果在</tspan><tspan x="68" dy="17.8">我们这个集体中形成了这种目无组织纪律观念</tspan><tspan x="68" dy="17.8">，不良风气，我们工作的提高将无从谈起。</tspan><tspan x="68" dy="17.8">因此，这件事的后果是严重的，影响是恶劣的</tspan><tspan x="68" dy="17.8">。</tspan></text></g>
<g id="e24" class="g"><rect x="60" y="3325" width="296" height="140.6" rx="6"/><text class="b" x="68" y="3346.5"><tspan x="68">发生这件事后，我知道无论怎样都不足以弥补</tspan><tspan x="68" dy="17.8">自己的过错。因此，我忠心的恳求中心领导能</tspan><tspan x="68" dy="17.8">够接受我真诚的歉意，并能来监督我，指正我</tspan><tspan x="68" dy="17.8">。我也衷心的感谢领导给我重新工作、学习的</tspan><tspan x="68" dy="17.8">机会，我会更加珍惜这来之不易的工作，以后</tspan><tspan x="68" dy="17.8">将会更加努力，更加认真的学习和工作。请领</tspan><tspan x="68" dy="17.8">导相信我。</tspan></text></g>
<g id="e25" class="g"><rect x="264" y="3496" width="92" height="32" rx="6"/><text class="b" x="272" y="3517">检讨人：***</text></g>
<g id="e26" class="g"><rect x="242" y="3558" width="114" height="32" rx="6"/><text class="b" x="250" y="3579">20**年**月**日</text></g>

<!-- Branch F -->
<g id="mainF" class="mu"><rect x="1424" y="2937" width="294" height="36" rx="7"/><text class="m" x="1571" y="2961.5">【工作失误相关检讨书怎么写】</text></g>
<g id="labelF1" class="u"><rect x="1744" y="2939" width="98" height="32" rx="6"/><text class="b" x="1752" y="2960">尊敬的领导：</text></g>
<g id="f11" class="u"><rect x="1868" y="2633" width="296" height="176.2" rx="6"/><text class="b" x="1876" y="2654.5"><tspan x="1876">于xxxx回标时，由于个人疏忽，在招标办主</tspan><tspan x="1876" dy="17.8">持人宣布回标截止后，方才进入会场回标，致</tspan><tspan x="1876" dy="17.8">使我公司此次投标未被接收，给公司造成了一</tspan><tspan x="1876" dy="17.8">定的经济损失和不良影响，同时让公司领导、</tspan><tspan x="1876" dy="17.8">业务部、技术部同仁的心血全部付之东流，在</tspan><tspan x="1876" dy="17.8">此我首先向大家说声抱歉，真的对不住大家!</tspan><tspan x="1876" dy="17.8">其次，在今后的工作中，我将加倍努力，希望</tspan><tspan x="1876" dy="17.8">能弥补此次失误给公司造成的经济损失和我愧</tspan><tspan x="1876" dy="17.8">疚的心灵!</tspan></text></g>
<g id="f12" class="u"><rect x="1868" y="2839" width="296" height="140.6" rx="6"/><text class="b" x="1876" y="2860.5"><tspan x="1876">同时这件事深深地警醒了我:做事情一定要严</tspan><tspan x="1876" dy="17.8">格要求自己，做到认真负责，有始有终，做足</tspan><tspan x="1876" dy="17.8">百分百，绝不能完成百分之九十九就松懈，放</tspan><tspan x="1876" dy="17.8">弃，而因为最后的百分之一满盘皆输，正所谓</tspan><tspan x="1876" dy="17.8">:失之毫厘，谬以千里.我同时也希望大家一起</tspan><tspan x="1876" dy="17.8">，深刻吸取此次泪的教训，引以为戒，杜绝此</tspan><tspan x="1876" dy="17.8">类事件在今后的工作中发生!</tspan></text></g>
<g id="f13" class="u"><rect x="1868" y="3010" width="296" height="69.4" rx="6"/><text class="b" x="1876" y="3031.5"><tspan x="1876">最后我要感谢这次失败的投标经历，感谢这份</tspan><tspan x="1876" dy="17.8">自我检讨书，给了我一次改正坏习惯的机会，</tspan><tspan x="1876" dy="17.8">从而使我向成功迈进了一步。</tspan></text></g>
<g id="f14" class="u"><rect x="1868" y="3109" width="92" height="32" rx="6"/><text class="b" x="1876" y="3130">检讨人：***</text></g>
<g id="f15" class="u"><rect x="1868" y="3170" width="114" height="32" rx="6"/><text class="b" x="1876" y="3191">20**年**月**日</text></g>
</svg>
